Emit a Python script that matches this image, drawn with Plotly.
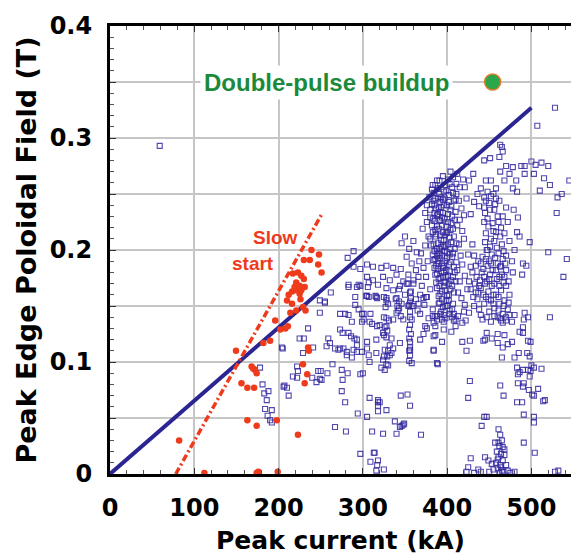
import plotly.graph_objects as go

# ---- measured shots: (peak current kA, peak edge poloidal field T) ----
main_core = [
    (384, 0.251), (389, 0.255), (393, 0.247), (398, 0.258), (402, 0.249), (406, 0.256), (391, 0.262), (396, 0.252),
    (382, 0.241), (387, 0.237), (392, 0.243), (395, 0.233), (400, 0.240), (404, 0.236), (408, 0.244), (411, 0.250),
    (380, 0.229), (385, 0.226), (388, 0.231), (394, 0.222), (397, 0.228), (401, 0.225), (406, 0.230), (410, 0.234),
    (383, 0.216), (386, 0.212), (390, 0.219), (393, 0.209), (399, 0.215), (403, 0.211), (407, 0.219), (412, 0.222),
    (381, 0.204), (385, 0.199), (389, 0.206), (392, 0.196), (396, 0.203), (400, 0.198), (405, 0.207), (409, 0.201),
    (384, 0.191), (387, 0.186), (391, 0.193), (395, 0.184), (398, 0.190), (402, 0.187), (406, 0.194), (411, 0.189),
    (386, 0.178), (390, 0.174), (393, 0.181), (397, 0.171), (401, 0.177), (405, 0.173), (409, 0.180),
    (388, 0.166), (392, 0.161), (396, 0.168), (400, 0.159), (404, 0.165), (408, 0.162),
    (391, 0.153), (395, 0.149), (399, 0.155), (403, 0.146), (407, 0.152),
    (386, 0.246), (390, 0.238), (394, 0.229), (388, 0.221), (397, 0.213), (391, 0.201), (388, 0.195), (394, 0.188),
    (399, 0.182), (403, 0.196), (396, 0.240), (401, 0.232), (389, 0.246), (385, 0.233), (392, 0.226), (398, 0.204),
    (395, 0.176), (389, 0.183), (402, 0.170), (398, 0.164),
    (382, 0.254), (386, 0.258), (391, 0.250), (395, 0.245), (399, 0.253), (403, 0.259), (407, 0.251), (410, 0.245),
    (380, 0.236), (384, 0.244), (389, 0.232), (393, 0.238), (397, 0.246), (402, 0.243), (405, 0.239), (409, 0.227),
    (382, 0.222), (386, 0.218), (391, 0.227), (395, 0.216), (399, 0.221), (404, 0.218), (408, 0.212), (411, 0.206),
    (380, 0.210), (384, 0.205), (388, 0.201), (392, 0.213), (396, 0.209), (401, 0.205), (404, 0.201), (407, 0.197),
    (383, 0.196), (386, 0.192), (390, 0.188), (394, 0.195), (397, 0.199), (400, 0.193), (404, 0.189), (408, 0.185),
    (385, 0.184), (388, 0.179), (392, 0.175), (396, 0.186), (399, 0.176), (403, 0.181), (407, 0.176), (410, 0.172),
    (387, 0.171), (391, 0.168), (394, 0.163), (398, 0.171), (402, 0.160), (406, 0.168), (390, 0.159), (394, 0.156),
    (398, 0.150), (402, 0.155), (406, 0.147),
    (385, 0.240), (392, 0.234), (387, 0.214), (393, 0.203), (389, 0.190), (396, 0.180), (383, 0.228), (400, 0.216),
    (405, 0.224), (390, 0.197),
]

main_fringe = [
    (376, 0.240), (379, 0.247), (383, 0.258), (388, 0.262), (395, 0.266), (401, 0.263), (407, 0.265), (411, 0.259),
    (415, 0.256), (419, 0.263), (404, 0.270), (412, 0.268), (421, 0.256), (426, 0.262), (431, 0.268), (374, 0.233),
    (376, 0.225), (371, 0.219), (378, 0.212), (374, 0.204), (369, 0.197), (377, 0.190), (372, 0.184), (375, 0.176),
    (370, 0.168), (380, 0.165), (376, 0.158),
    (346, 0.206), (350, 0.212), (355, 0.201), (360, 0.208), (364, 0.198), (352, 0.194), (358, 0.188), (363, 0.182),
    (367, 0.190), (345, 0.183), (340, 0.178), (348, 0.172), (354, 0.178), (360, 0.170), (366, 0.176), (343, 0.165),
    (350, 0.160), (357, 0.163), (363, 0.156), (368, 0.160), (354, 0.150), (346, 0.152),
    (414, 0.244), (417, 0.237), (415, 0.227), (420, 0.231), (423, 0.246), (418, 0.217), (414, 0.205), (420, 0.210),
    (416, 0.195), (412, 0.182), (418, 0.187), (415, 0.172), (421, 0.177), (413, 0.162), (417, 0.157), (424, 0.165),
    (421, 0.151), (426, 0.172), (428, 0.185), (425, 0.196), (428, 0.232), (432, 0.243), (436, 0.250), (440, 0.255),
    (446, 0.262), (444, 0.247), (438, 0.239),
    (383, 0.147), (388, 0.141), (393, 0.145), (398, 0.139), (403, 0.143), (408, 0.137), (413, 0.141), (386, 0.132),
    (396, 0.129), (405, 0.127), (410, 0.132), (400, 0.150), (390, 0.152), (418, 0.135), (384, 0.123),
]

second_lobe = [
    (444, 0.238), (450, 0.242), (456, 0.236), (448, 0.228), (454, 0.224), (460, 0.230), (446, 0.215), (452, 0.210),
    (458, 0.216), (464, 0.220), (447, 0.200), (453, 0.196), (459, 0.202), (465, 0.205), (432, 0.195), (437, 0.190),
    (442, 0.194), (448, 0.186), (454, 0.182), (460, 0.188), (466, 0.192), (430, 0.180), (435, 0.176), (441, 0.180),
    (447, 0.172), (453, 0.168), (459, 0.174), (465, 0.178), (470, 0.182), (428, 0.165), (434, 0.162), (440, 0.166),
    (446, 0.158), (452, 0.155), (458, 0.160), (464, 0.164), (470, 0.168), (432, 0.150), (438, 0.147), (444, 0.152),
    (450, 0.145), (456, 0.148), (462, 0.152), (468, 0.155), (474, 0.160), (442, 0.138), (452, 0.136), (460, 0.140),
    (466, 0.143), (472, 0.147), (444, 0.225), (456, 0.208), (450, 0.190), (462, 0.176), (445, 0.170), (455, 0.160),
    (436, 0.156), (448, 0.200), (470, 0.195), (474, 0.208), (468, 0.215), (472, 0.225), (462, 0.244), (455, 0.250),
    (448, 0.252), (430, 0.205), (457, 0.193), (463, 0.185), (451, 0.178), (467, 0.171), (461, 0.158), (449, 0.163),
    (443, 0.183), (439, 0.173),
    (445, 0.233), (451, 0.236), (457, 0.241), (461, 0.225), (449, 0.221), (455, 0.217), (463, 0.212), (445, 0.207),
    (451, 0.203), (461, 0.197), (467, 0.199), (434, 0.186), (440, 0.188), (446, 0.192), (452, 0.188), (458, 0.182),
    (464, 0.186), (469, 0.188), (433, 0.170), (438, 0.168), (444, 0.176), (450, 0.174), (456, 0.170), (462, 0.168),
    (468, 0.176), (473, 0.172), (431, 0.158), (437, 0.162), (443, 0.160), (449, 0.156), (455, 0.152), (461, 0.146),
    (467, 0.150), (473, 0.153), (440, 0.142), (447, 0.140), (456, 0.141), (464, 0.137), (470, 0.140),
    (466, 0.230), (470, 0.238), (458, 0.246), (452, 0.248), (446, 0.244),
    (452, 0.262), (458, 0.255), (463, 0.270), (468, 0.262), (470, 0.275), (462, 0.283), (474, 0.268), (478, 0.255),
    (482, 0.262), (444, 0.280), (451, 0.282), (465, 0.292), (488, 0.275), (478, 0.274),
]

high_current_scatter = [
    (492, 0.275), (500, 0.279), (505, 0.276), (512, 0.278), (520, 0.275), (492, 0.268), (503, 0.268), (515, 0.264),
    (483, 0.252), (536, 0.250), (531, 0.247), (530, 0.233), (484, 0.229), (486, 0.212), (498, 0.207), (490, 0.188),
    (494, 0.186), (478, 0.180), (489, 0.178), (480, 0.200), (477, 0.190), (483, 0.216), (479, 0.236), (528, 0.327),
    (507, 0.311), (463, 0.294), (466, 0.288), (520, 0.198), (542, 0.192), (538, 0.176), (522, 0.258), (510, 0.253),
    (545, 0.262),
    (522, 0.140), (496, 0.140), (490, 0.131), (491, 0.138), (492, 0.144), (480, 0.142), (463, 0.139), (466, 0.135),
    (470, 0.137), (477, 0.136), (474, 0.142), (447, 0.126), (460, 0.125), (468, 0.124), (445, 0.120), (453, 0.121),
    (460, 0.117), (466, 0.113), (472, 0.116), (477, 0.118), (486, 0.127), (490, 0.126), (496, 0.119), (499, 0.118),
    (495, 0.108), (498, 0.105), (485, 0.108), (465, 0.104), (480, 0.104), (500, 0.097), (503, 0.095), (499, 0.092),
    (512, 0.094), (483, 0.095), (486, 0.091), (490, 0.093), (484, 0.089), (496, 0.093), (498, 0.087), (484, 0.081),
    (491, 0.081), (490, 0.078), (497, 0.075), (501, 0.071), (508, 0.076), (503, 0.070), (463, 0.079), (467, 0.070),
    (483, 0.064), (489, 0.064), (514, 0.065), (516, 0.066), (491, 0.053), (503, 0.051), (503, 0.046), (444, 0.051),
    (447, 0.051), (441, 0.043), (491, 0.028), (461, 0.028), (504, 0.019), (528, 0.002), (532, 0.003),
]

low_field_group = [
    (462, 0.001), (465, 0.003), (460, 0.005), (467, 0.002), (463, 0.008), (458, 0.010), (466, 0.012), (461, 0.015),
    (464, 0.018), (459, 0.020), (468, 0.022), (462, 0.025), (465, 0.030), (457, 0.028), (470, 0.008), (455, 0.004),
    (472, 0.003), (450, 0.002), (445, 0.015), (440, 0.002), (475, 0.001), (480, 0.002), (463, 0.035), (461, 0.040),
    (449, 0.012), (468, 0.017), (453, 0.009), (437, 0.004), (432, 0.001), (464, 0.006), (460, 0.013), (466, 0.024),
]

mid_current_scatter = [
    (289, 0.199), (282, 0.193), (289, 0.185), (297, 0.183), (305, 0.187), (312, 0.185), (322, 0.184), (328, 0.186),
    (336, 0.184), (305, 0.176), (312, 0.173), (324, 0.176), (332, 0.173), (283, 0.169), (295, 0.169), (306, 0.167),
    (318, 0.169), (328, 0.166), (336, 0.164), (344, 0.168), (352, 0.170), (360, 0.173), (291, 0.158), (305, 0.159),
    (316, 0.158), (328, 0.157), (340, 0.157), (356, 0.154), (366, 0.152), (273, 0.143), (283, 0.142), (301, 0.143),
    (308, 0.136), (320, 0.133), (328, 0.132), (336, 0.138), (348, 0.138), (356, 0.140), (368, 0.143), (378, 0.139),
    (273, 0.129), (283, 0.126), (293, 0.120), (305, 0.118), (316, 0.120), (324, 0.126), (332, 0.115), (344, 0.117),
    (356, 0.118), (368, 0.120), (261, 0.117), (273, 0.112), (281, 0.109), (289, 0.111), (305, 0.112), (316, 0.108),
    (324, 0.102), (336, 0.112), (356, 0.111), (384, 0.111), (388, 0.099),
    (354, 0.170), (356, 0.162), (357, 0.157), (355, 0.151), (358, 0.150), (360, 0.150), (356, 0.145), (358, 0.138),
    (356, 0.133), (355, 0.129), (357, 0.125), (355, 0.121), (356, 0.113), (355, 0.110), (356, 0.106), (355, 0.101),
    (358, 0.099),
    (325, 0.158), (328, 0.155), (327, 0.149), (330, 0.152), (325, 0.140), (328, 0.139), (331, 0.137), (326, 0.131),
    (329, 0.128), (325, 0.124), (328, 0.122), (326, 0.111), (330, 0.110), (325, 0.105), (329, 0.105), (332, 0.106),
    (334, 0.108), (328, 0.098), (330, 0.097), (322, 0.095), (326, 0.093), (334, 0.121),
    (341, 0.150), (343, 0.148), (340, 0.144), (345, 0.141), (343, 0.154), (339, 0.156), (342, 0.146),
    (365, 0.146), (372, 0.157), (375, 0.158), (373, 0.151), (374, 0.132), (376, 0.130), (372, 0.125), (383, 0.141),
    (386, 0.141), (388, 0.138), (384, 0.135), (386, 0.124), (384, 0.110), (394, 0.138), (396, 0.136), (396, 0.142),
    (392, 0.143), (394, 0.118), (389, 0.098), (406, 0.140), (410, 0.138), (408, 0.143), (422, 0.137), (420, 0.145),
    (418, 0.118), (427, 0.119), (423, 0.110), (426, 0.144), (443, 0.119), (427, 0.083), (425, 0.068), (345, 0.070),
    (353, 0.071), (356, 0.061), (318, 0.066), (320, 0.064), (318, 0.056), (328, 0.057), (338, 0.047), (349, 0.045),
    (346, 0.043), (344, 0.042), (348, 0.044), (324, 0.036), (340, 0.036), (369, 0.035), (314, 0.019), (316, 0.003),
    (428, 0.014), (425, 0.006), (423, 0.002), (318, 0.012), (325, 0.004),
    (262, 0.162), (283, 0.167), (293, 0.167), (297, 0.168), (307, 0.171), (304, 0.159), (307, 0.158), (315, 0.159),
    (317, 0.157), (255, 0.154), (249, 0.144), (279, 0.143), (291, 0.151), (295, 0.147), (299, 0.143), (301, 0.138),
    (309, 0.143), (311, 0.134), (317, 0.132), (299, 0.136), (287, 0.136), (276, 0.126), (286, 0.123), (290, 0.121),
    (267, 0.112), (271, 0.111), (277, 0.112), (281, 0.106), (287, 0.104), (293, 0.109), (299, 0.109), (307, 0.106),
    (293, 0.115), (257, 0.114), (259, 0.121), (225, 0.121), (205, 0.112), (241, 0.113), (264, 0.098), (275, 0.093),
    (282, 0.090), (297, 0.089), (300, 0.090), (308, 0.100), (222, 0.096), (223, 0.092), (247, 0.092), (250, 0.092),
    (258, 0.090), (251, 0.084), (276, 0.084), (206, 0.078), (210, 0.077), (275, 0.074), (279, 0.064), (308, 0.068),
    (318, 0.064), (318, 0.061), (294, 0.054), (305, 0.051), (192, 0.057), (192, 0.046), (267, 0.042), (280, 0.038),
    (311, 0.038), (297, 0.018), (313, 0.019), (309, 0.011), (317, 0.008),
]

low_current_scatter = [
    (178, 0.095), (181, 0.080), (183, 0.072), (186, 0.066), (184, 0.058), (187, 0.052), (190, 0.048), (204, 0.113),
    (207, 0.079), (188, 0.074), (212, 0.070), (217, 0.087), (222, 0.086), (229, 0.108), (230, 0.121), (235, 0.130),
    (245, 0.082), (249, 0.085), (240, 0.086), (249, 0.155), (255, 0.153), (59, 0.293),
]

# slow-start shots
slow_start = [
    (82, 0.030), (112, 0.001), (174, 0.001), (176, 0.002), (199, 0.002), (149.5, 0.110), (156, 0.081), (163, 0.077),
    (171, 0.077), (168, 0.096), (172, 0.093), (174, 0.090), (170, 0.094), (163, 0.048), (174, 0.043), (198, 0.048),
    (223, 0.035), (182, 0.117), (190, 0.119), (196, 0.137), (202, 0.129), (208, 0.130), (211, 0.132), (214, 0.144),
    (216, 0.152), (221, 0.146), (229, 0.149), (232, 0.146), (235, 0.113), (236, 0.110), (229, 0.098), (234, 0.089),
    (231, 0.081), (225, 0.161), (221, 0.164), (216, 0.163), (217, 0.179), (223, 0.180), (227, 0.177), (230, 0.174),
    (221, 0.171), (225, 0.168), (231, 0.167), (219, 0.167), (227, 0.164), (239, 0.200), (248, 0.196), (247, 0.187),
    (251, 0.180), (237, 0.191), (230, 0.191), (210, 0.155), (226, 0.156), (212, 0.160),
]

# double-pulse buildup shot
double_pulse_ka = [454]
double_pulse_t = [0.350]

# trend lines
fast_fit_ka = [0, 500]
fast_fit_t = [0.0, 0.327]
slow_fit_ka = [78, 252]
slow_fit_t = [0.0, 0.233]

x_ticks = [0, 100, 200, 300, 400, 500]
y_ticks = [0, 0.05, 0.1, 0.15, 0.2, 0.25, 0.3, 0.35, 0.4]
y_tick_text = ["0", "", "0.1", "", "0.2", "", "0.3", "", "0.4"]

blue_pts = (main_core + main_fringe + second_lobe + high_current_scatter
            + low_field_group + mid_current_scatter + low_current_scatter)
blue_ka = [p[0] for p in blue_pts]
blue_t = [p[1] for p in blue_pts]
red_ka = [p[0] for p in slow_start]
red_t = [p[1] for p in slow_start]

BLUE = "#2b2592"
RED = "#ee3b1c"
SQUARE = "rgba(50,40,160,0.85)"

fig = go.Figure()

fig.add_trace(go.Scatter(
    x=blue_ka, y=blue_t, mode="markers", cliponaxis=False,
    marker=dict(symbol="square-open", size=5, color=SQUARE,
                line=dict(width=1.1, color=SQUARE)),
    showlegend=False, hoverinfo="x+y"))

fig.add_trace(go.Scatter(
    x=fast_fit_ka, y=fast_fit_t, mode="lines",
    line=dict(color=BLUE, width=4), showlegend=False, hoverinfo="skip"))

fig.add_trace(go.Scatter(
    x=red_ka, y=red_t, mode="markers", cliponaxis=False,
    marker=dict(symbol="circle", size=6.5, color=RED, line=dict(width=0)),
    showlegend=False, hoverinfo="x+y"))

fig.add_trace(go.Scatter(
    x=slow_fit_ka, y=slow_fit_t, mode="lines",
    line=dict(color=RED, width=3.5, dash="7px,3px,2px,3px"),
    showlegend=False, hoverinfo="skip"))

fig.add_trace(go.Scatter(
    x=double_pulse_ka, y=double_pulse_t, mode="markers",
    marker=dict(symbol="circle", size=16, color="#2ca64b",
                line=dict(width=1.5, color="#e07b2c")),
    showlegend=False, hoverinfo="x+y"))

fig.add_annotation(x=257, y=0.350, text="Double-pulse buildup", showarrow=False,
                   font=dict(family="Liberation Sans", size=24, color="#1b8a3b", weight="bold"),
                   bgcolor="white", borderpad=3)
fig.add_annotation(x=196, y=0.2116, text="Slow", showarrow=False,
                   font=dict(family="Liberation Sans", size=19, color=RED, weight="bold"))
fig.add_annotation(x=170, y=0.188, text="start", showarrow=False,
                   font=dict(family="Liberation Sans", size=19, color=RED, weight="bold"))

tick_font = dict(family="DejaVu Sans", size=24, color="black", weight="bold")

fig.update_xaxes(
    range=[0, 547], tickvals=x_ticks, ticks="inside", ticklen=6, tickcolor="#333",
    showgrid=True, gridcolor="#c6c6c6", gridwidth=1.5, zeroline=False,
    showline=True, linecolor="black", linewidth=3, mirror="ticks",
    minor=dict(dtick=20, ticks="inside", ticklen=4, tickcolor="#555", showgrid=False),
    tickfont=tick_font, ticklabelstandoff=10,
    title=dict(text="Peak current (kA)", standoff=11,
               font=dict(family="DejaVu Sans", size=25, color="black", weight="bold")))

fig.update_yaxes(
    range=[0, 0.4], tickvals=y_ticks, ticktext=y_tick_text, ticks="inside", ticklen=6, tickcolor="#333",
    showgrid=True, gridcolor="#c6c6c6", gridwidth=1.5, zeroline=False,
    showline=True, linecolor="black", linewidth=3, mirror=False,
    minor=dict(dtick=0.01, ticks="inside", ticklen=4, tickcolor="#555", showgrid=False),
    tickfont=tick_font, ticklabelstandoff=10,
    title=dict(text="Peak Edge Poloidal Field (T)", standoff=6,
               font=dict(family="DejaVu Sans", size=27, color="black", weight="bold")))

fig.update_layout(
    width=571, height=560,
    margin=dict(l=110, r=0, t=26, b=86),
    paper_bgcolor="white", plot_bgcolor="white",
    showlegend=False)

fig.write_html("out.html")
